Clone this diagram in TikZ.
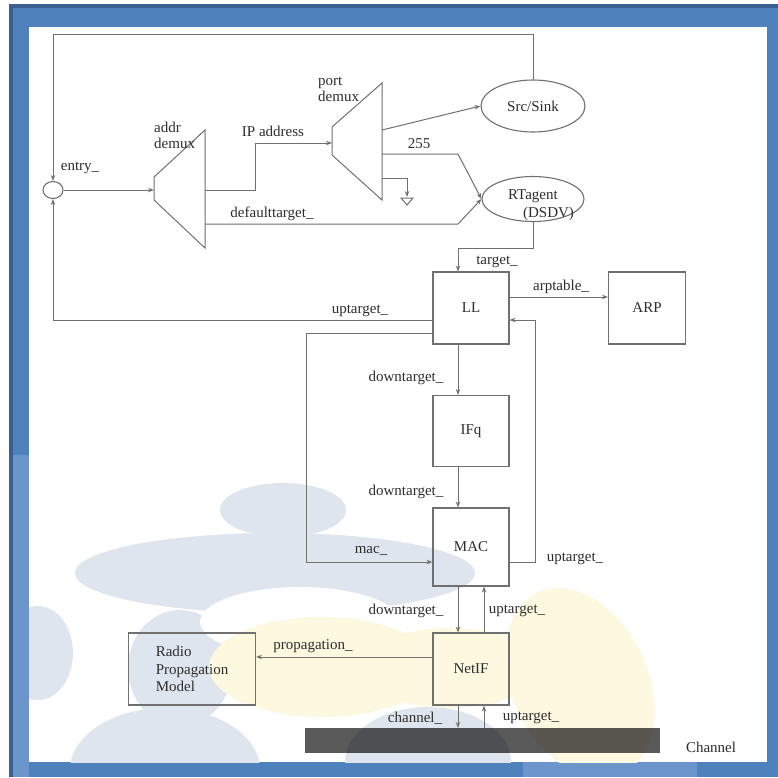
\documentclass[tikz,border=0pt]{standalone}
\usepackage{fontspec}
\setmainfont{Liberation Serif}
\usetikzlibrary{arrows.meta,shapes.geometric,positioning}

\definecolor{frameblue}{RGB}{79,129,189}
\definecolor{framedark}{RGB}{58,96,146}
\definecolor{framelight}{RGB}{108,150,203}
\definecolor{wmblue}{RGB}{222,229,239}
\definecolor{wmyellow}{RGB}{253,248,224}
\definecolor{wiregray}{RGB}{112,112,112}
\definecolor{txtgray}{RGB}{45,45,45}

\tikzset{
	blk/.style={draw=wiregray, line width=1.1pt, minimum width=76pt, minimum height=72pt, inner sep=0pt, text=txtgray},
	agent/.style={draw=wiregray, line width=1.1pt, ellipse, inner sep=0pt, text=txtgray},
	lbl/.style={inner sep=0pt, text=txtgray},
	wire/.style={draw=wiregray, line width=1pt},
}

\begin{document}
\begin{tikzpicture}[x=1pt,y=-1pt,>={Stealth[length=6pt,width=4.5pt]},font=\fontsize{15}{17.5}\selectfont]
	% frame
	\fill[white] (0,0) rectangle (778,777);
	\fill[framedark] (9,4) rectangle (778,777);
	\fill[frameblue] (13,8) rectangle (778,777);
	\fill[framelight] (13,455) rectangle (29,777);
	\fill[framelight] (523,762) rectangle (697,777);
	\fill[white] (29,27) rectangle (767,762);
	\useasboundingbox (0,0) rectangle (778,777);

	% watermark
	\begin{scope}
		\clip (29,27) rectangle (767,762);
		\fill[wmblue] (283,510) ellipse [x radius=63pt, y radius=27pt];
		\fill[wmblue] (275,573) ellipse [x radius=200pt, y radius=40pt];
		\fill[wmblue] (180,668) ellipse [x radius=52pt, y radius=58pt];
		\fill[wmblue] (38,653) ellipse [x radius=35pt, y radius=47pt];
		\fill[wmblue] (165,770) ellipse [x radius=95pt, y radius=62pt];
		\fill[wmblue] (428,762) ellipse [x radius=83pt, y radius=55pt];
		\fill[white] (300,622) ellipse [x radius=100pt, y radius=35pt];
		\fill[wmyellow] (322,667) ellipse [x radius=113pt, y radius=50pt];
		\fill[wmyellow] (450,668) ellipse [x radius=90pt, y radius=40pt];
		\fill[wmyellow, rotate around={25:(580,683)}] (580,683) ellipse [x radius=68pt, y radius=100pt];
	\end{scope}

	% nodes
	\node[agent, minimum width=20pt, minimum height=17pt] (entry) at (53,190) {};
	\node[agent, minimum width=104pt, minimum height=52pt] (src) at (533,106) {Src/Sink};
	\node[agent, minimum width=102pt, minimum height=45pt] (rt) at (533,199) {};
	\node[lbl, align=left] (rtname) at (541,205) {RTagent\\\hspace*{1em}(DSDV)};
	\node[blk] (ll) at (471,308) {LL};
	\node[blk, minimum width=77pt] (arp) at (647,308) {ARP};
	\node[blk, minimum height=71pt] (ifq) at (471,431) {IFq};
	\node[blk, minimum height=78pt] (mac) at (471,547) {MAC};
	\node[blk] (netif) at (471,669) {NetIF};
	\node[blk, minimum width=127pt, align=left] (radio) at (192,669) {Radio\\Propagation\\Model};
	\node[fill=black, fill opacity=0.65, minimum width=355pt, minimum height=25pt, inner sep=0pt] (chan) at (482.5,740.5) {};

	% demuxes
	\draw[wire] (154,177) -- (205,130) -- (205,248) -- (154,200) -- cycle;
	\draw[wire] (332,127) -- (382,83) -- (382,200) -- (332,155) -- cycle;
	\coordinate (addrin) at (154,190);
	\coordinate (addrout1) at (205,190);
	\coordinate (addrout2) at (205,224);
	\coordinate (portin) at (332,143);
	\coordinate (portout1) at (382,130);
	\coordinate (portout2) at (382,154);
	\coordinate (portout3) at (382,178);
	\coordinate (gnd) at (407,197);
	\draw[wire] (401,198) -- (413,198) -- (407,205) -- cycle;

	% bends
	\coordinate (topleft) at (53,34);
	\coordinate (ipbend) at (255,190);
	\coordinate (dtbend) at (458,224);
	\coordinate (bcbend) at (458,154);
	\coordinate (tgbend) at (533,248);
	\coordinate (macbend) at (306,562);
	\coordinate (upbend) at (535,320);
	\coordinate (chdown) at (458,728);
	\coordinate (chup) at (484,728);

	% connectors
	\draw[wire,->] (src.north) |- (topleft) -- (entry.north);
	\draw[wire,->] ([yshift=-12pt]ll.west) -| (entry.south);
	\draw[wire,->] (entry) -- (addrin);
	\draw[wire,->] (addrout1) -- (ipbend) |- (portin);
	\draw[wire,->] (addrout2) -- (dtbend) -- (rt.west);
	\draw[wire,->] (portout1) -- (src.west);
	\draw[wire,->] (portout2) -- (bcbend) -- (rt.west);
	\draw[wire,->] (portout3) -| (gnd);
	\draw[wire,->] (rt.south) -- (tgbend) -| ([xshift=-13pt]ll.north);
	\draw[wire,->] ([yshift=11pt]ll.east) -- ([yshift=11pt]arp.west);
	\draw[wire,->] ([yshift=-25pt]ll.west) -| (macbend) -- ([yshift=-15pt]mac.west);
	\draw[wire,->] ([xshift=-13pt]ll.south) -- ([xshift=-13pt]ifq.north);
	\draw[wire,->] ([xshift=-13pt]ifq.south) -- ([xshift=-13pt]mac.north);
	\draw[wire,->] ([yshift=-15pt]mac.east) -| (upbend) -- ([yshift=-12pt]ll.east);
	\draw[wire,->] ([xshift=-13pt]mac.south) -- ([xshift=-13pt]netif.north);
	\draw[wire,->] ([xshift=13pt]netif.north) -- ([xshift=13pt]mac.south);
	\draw[wire,->] ([yshift=12pt]netif.west) -- ([yshift=12pt]radio.east);
	\draw[wire,->] ([xshift=-13pt]netif.south) -- (chdown);
	\draw[wire,->] (chup) -- ([xshift=13pt]netif.south);

	% labels
	\node[lbl] (entrylbl) at (80,168) {entry\_};
	\node[lbl, align=left, anchor=west, font=\fontsize{15}{16}\selectfont] (addrlbl) at (154,135) {addr\\demux};
	\node[lbl, align=left, anchor=west, font=\fontsize{15}{16}\selectfont] (portlbl) at (318,89) {port\\demux};
	\node[lbl] (iplbl) at (273,131) {IP address};
	\node[lbl] (bclbl) at (419,144) {255};
	\node[lbl] (dtlbl) at (272,214) {defaulttarget\_};
	\node[lbl] (tglbl) at (497,262) {target\_};
	\node[lbl] (arplbl) at (561,287) {arptable\_};
	\node[lbl] (uplbl1) at (360,311) {uptarget\_};
	\node[lbl] (dnlbl1) at (406,378) {downtarget\_};
	\node[lbl] (dnlbl2) at (406,492) {downtarget\_};
	\node[lbl] (maclbl) at (371,551) {mac\_};
	\node[lbl] (uplbl2) at (575,559) {uptarget\_};
	\node[lbl] (dnlbl3) at (406,611) {downtarget\_};
	\node[lbl] (uplbl3) at (517,611) {uptarget\_};
	\node[lbl] (proplbl) at (313,646) {propagation\_};
	\node[lbl] (chlbl) at (415,718) {channel\_};
	\node[lbl] (uplbl4) at (531,718) {uptarget\_};
	\node[lbl] (chanlbl) at (711,747) {Channel};
\end{tikzpicture}
\end{document}
